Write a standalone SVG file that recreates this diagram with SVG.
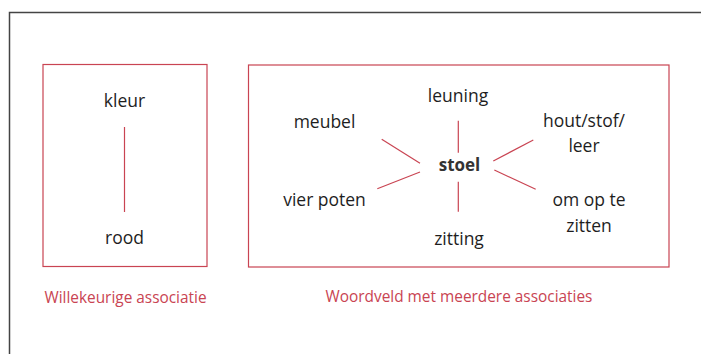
<svg xmlns="http://www.w3.org/2000/svg" width="701" height="354" viewBox="0 0 701 354">
<style>
.frame{fill:none;stroke:#444;stroke-width:1.5}
.box{fill:none;stroke:#c94452;stroke-width:1.2}
.ln{stroke:#c94452;stroke-width:1.2;fill:none}
.t{font-family:"Open Sans","Liberation Sans",sans-serif;font-size:17.5px;fill:#1e1e1e;text-anchor:middle}
.b{font-weight:bold;fill:#333;font-size:17px}
.cap{font-family:"Open Sans","Liberation Sans",sans-serif;font-size:15.4px;fill:#c94452;text-anchor:middle}
</style>
<rect width="701" height="354" fill="#fff"/>
<path class="frame" d="M9.5 354 V12.5 H701"/>
<g id="box-willekeurig">
<rect class="box" x="43" y="64.5" width="164" height="202"/>
<text class="cap" x="125.5" y="303">Willekeurige associatie</text>
</g>
<g id="node-kleur"><text class="t" x="124.5" y="107">kleur</text></g>
<g id="node-rood"><text class="t" x="124.5" y="244">rood</text></g>
<g id="box-woordveld">
<rect class="box" x="248.5" y="65" width="420.5" height="202"/>
<text class="cap" x="459" y="302">Woordveld met meerdere associaties</text>
</g>
<g id="node-stoel"><text class="t b" x="459.5" y="171">stoel</text></g>
<g id="node-leuning"><text class="t" x="458" y="102">leuning</text></g>
<g id="node-meubel"><text class="t" x="324.5" y="128">meubel</text></g>
<g id="node-hout"><text class="t" x="584" y="127">hout/stof/</text><text class="t" x="584" y="152">leer</text></g>
<g id="node-vierpoten"><text class="t" x="324.5" y="205.5">vier poten</text></g>
<g id="node-zitting"><text class="t" x="459" y="245">zitting</text></g>
<g id="node-omop"><text class="t" x="589" y="205.5">om op te</text><text class="t" x="589" y="232">zitten</text></g>
<g id="connectors">
<line class="ln" x1="124.5" y1="127" x2="124.5" y2="212"/>
<line class="ln" x1="458.3" y1="120.7" x2="458.3" y2="152.7"/>
<line class="ln" x1="458.3" y1="181.7" x2="458.3" y2="211.7"/>
<line class="ln" x1="381.7" y1="139.3" x2="420" y2="163.3"/>
<line class="ln" x1="420" y1="172" x2="377.3" y2="188.7"/>
<line class="ln" x1="493.3" y1="161" x2="533.3" y2="140"/>
<line class="ln" x1="494.3" y1="170" x2="535.7" y2="189.3"/>
</g>
</svg>
